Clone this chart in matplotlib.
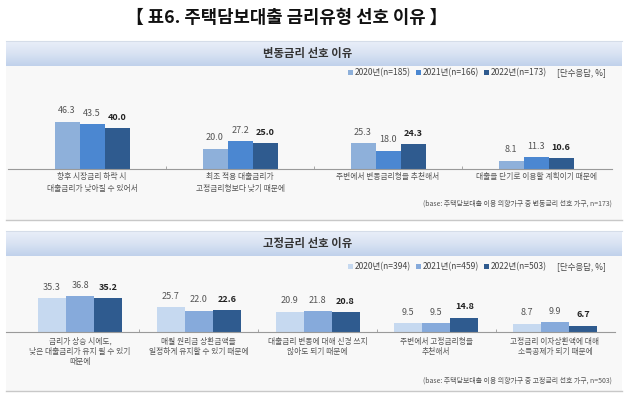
import numpy as np
import matplotlib
matplotlib.use("Agg")
import matplotlib.pyplot as plt
from matplotlib.patches import Patch
from matplotlib.colors import LinearSegmentedColormap

plt.rcParams['font.family'] = ['Noto Sans CJK KR', 'DejaVu Sans']

# ---- data: 변동금리 선호 이유 ----
var_labels = ["향후 시장금리 하락 시\n대출금리가 낮아질 수 있어서",
              "최초 적용 대출금리가\n고정금리형보다 낮기 때문에",
              "주변에서 변동금리형을 추천해서",
              "대출을 단기로 이용할 계획이기 때문에"]
var_2020 = [46.3, 20.0, 25.3, 8.1]
var_2021 = [43.5, 27.2, 18.0, 11.3]
var_2022 = [40.0, 25.0, 24.3, 10.6]
var_legend = ["2020년(n=185)", "2021년(n=166)", "2022년(n=173)"]

# ---- data: 고정금리 선호 이유 ----
fix_labels = ["금리가 상승 시에도,\n낮은 대출금리가 유지 될 수 있기\n때문에",
              "매월 원리금 상환금액을\n일정하게 유지할 수 있기 때문에",
              "대출금리 변동에 대해 신경 쓰지\n않아도 되기 때문에",
              "주변에서 고정금리형을\n추천해서",
              "고정금리 이자상환액에 대해\n소득공제가 되기 때문에"]
fix_2020 = [35.3, 25.7, 20.9, 9.5, 8.7]
fix_2021 = [36.8, 22.0, 21.8, 9.5, 9.9]
fix_2022 = [35.2, 22.6, 20.8, 14.8, 6.7]
fix_legend = ["2020년(n=394)", "2021년(n=459)", "2022년(n=503)"]

var_colors = ["#8eb0da", "#4b87d1", "#2f5b8f"]
fix_colors = ["#c6d9f0", "#86aadb", "#2f5b8f"]

W, H = 630, 400
fig = plt.figure(figsize=(6.3, 4.0), dpi=100)


def px_axes(x0, y0, x1, y1):
    # pixel box, origin top-left
    return fig.add_axes([x0 / W, 1 - y1 / H, (x1 - x0) / W, (y1 - y0) / H])


# background layer
bg = fig.add_axes([0, 0, 1, 1])
bg.set_xlim(0, W)
bg.set_ylim(H, 0)
bg.axis('off')

band_cmap = LinearSegmentedColormap.from_list("band", ["#e9eff9", "#d9e3f3", "#c0d1eb"])
grad = np.linspace(0, 1, 60).reshape(-1, 1)


def panel_bg(top, body_bottom, title):
    bg.add_patch(plt.Rectangle((6, top + 25), 616, body_bottom - top - 25,
                               facecolor="#f8f8f8", edgecolor="none"))
    bg.imshow(grad, extent=(6, 622, top + 25, top), aspect='auto', cmap=band_cmap)
    bg.plot([6, 622], [top, top], color="#d5dde9", lw=0.8)
    bg.plot([6, 622], [body_bottom, body_bottom], color="#c8c8c8", lw=1.0)
    bg.text(308, top + 12.5, title, ha='center', va='center', fontsize=8.2,
            fontweight='bold', color="#333333")


panel_bg(41, 220, "변동금리 선호 이유")
panel_bg(231, 391, "고정금리 선호 이유")
bg.set_xlim(0, W)
bg.set_ylim(H, 0)

fig.text(287 / W, 1 - 18 / H, "【 표6. 주택담보대출 금리유형 선호 이유 】",
         ha='center', va='center', fontsize=12.8, fontweight='bold', color="#111111")


def draw_bars(ax, labels, series, colors, width, ymax, lab_pad, linesp):
    n = len(labels)
    x = np.arange(n)
    for i, (vals, c) in enumerate(zip(series, colors)):
        bars = ax.bar(x + (i - 1) * width, vals, width, color=c, zorder=2)
        last = i == len(series) - 1
        ax.bar_label(bars, labels=[f"{v:.1f}" for v in vals], padding=4.5,
                     fontsize=6.5, color="#222222" if last else "#555555",
                     fontweight='bold' if last else 'normal')
    ax.set_ylim(0, ymax)
    ax.set_facecolor("none")
    for s in ["top", "right", "left"]:
        ax.spines[s].set_visible(False)
    ax.spines["bottom"].set_color("#9a9a9a")
    ax.spines["bottom"].set_linewidth(0.8)
    ax.set_yticks([])
    ax.set_xticks(x)
    ax.set_xticklabels(labels, fontsize=5.6, color="#555555", linespacing=linesp)
    ax.tick_params(axis='x', which='major', length=0, pad=lab_pad)
    ax.set_xticks(x[:-1] + 0.5, minor=True)
    ax.tick_params(axis='x', which='minor', length=2.5, direction='in',
                   color="#9a9a9a", width=0.6)


def draw_legend(names, colors, y):
    handles = [Patch(facecolor=c, edgecolor='none') for c in colors]
    fig.legend(handles, names, loc='center right', bbox_to_anchor=(547 / W, 1 - y / H),
               ncol=3, frameon=False, fontsize=6.1, handlelength=0.6, handleheight=0.6,
               handletextpad=0.2, columnspacing=0.6, borderpad=0, borderaxespad=0,
               labelcolor="#444444")
    fig.text(606 / W, 1 - y / H, "[단수응답, %]", ha='right', va='center',
             fontsize=6.1, color="#444444")


# panel 1: centres at 92 + 148*i px, baseline y=169
ax1 = px_axes(8, 169 - 1.025 * 50, 612, 169)
ax1.set_xlim((8 - 92) / 148, (612 - 92) / 148)
draw_bars(ax1, var_labels, [var_2020, var_2021, var_2022], var_colors,
          25 / 148, 50, 3.0, 1.55)
draw_legend(var_legend, var_colors, 73)
fig.text(612 / W, 1 - 204 / H, "(base: 주택담보대출 이용 의향가구 중 변동금리 선호 가구, n=173)",
         ha='right', va='center', fontsize=5, color="#555555")

# panel 2: centres at 80 + 118.75*i px, baseline y=332
ax2 = px_axes(6, 332 - 0.97 * 40, 615, 332)
ax2.set_xlim((6 - 80) / 118.75, (615 - 80) / 118.75)
draw_bars(ax2, fix_labels, [fix_2020, fix_2021, fix_2022], fix_colors,
          28 / 118.75, 40, 4.0, 1.35)
draw_legend(fix_legend, fix_colors, 267)
fig.text(612 / W, 1 - 381 / H, "(base: 주택담보대출 이용 의향가구 중 고정금리 선호 가구, n=503)",
         ha='right', va='center', fontsize=5, color="#555555")

fig.savefig("out.png", dpi=100, facecolor="white")
